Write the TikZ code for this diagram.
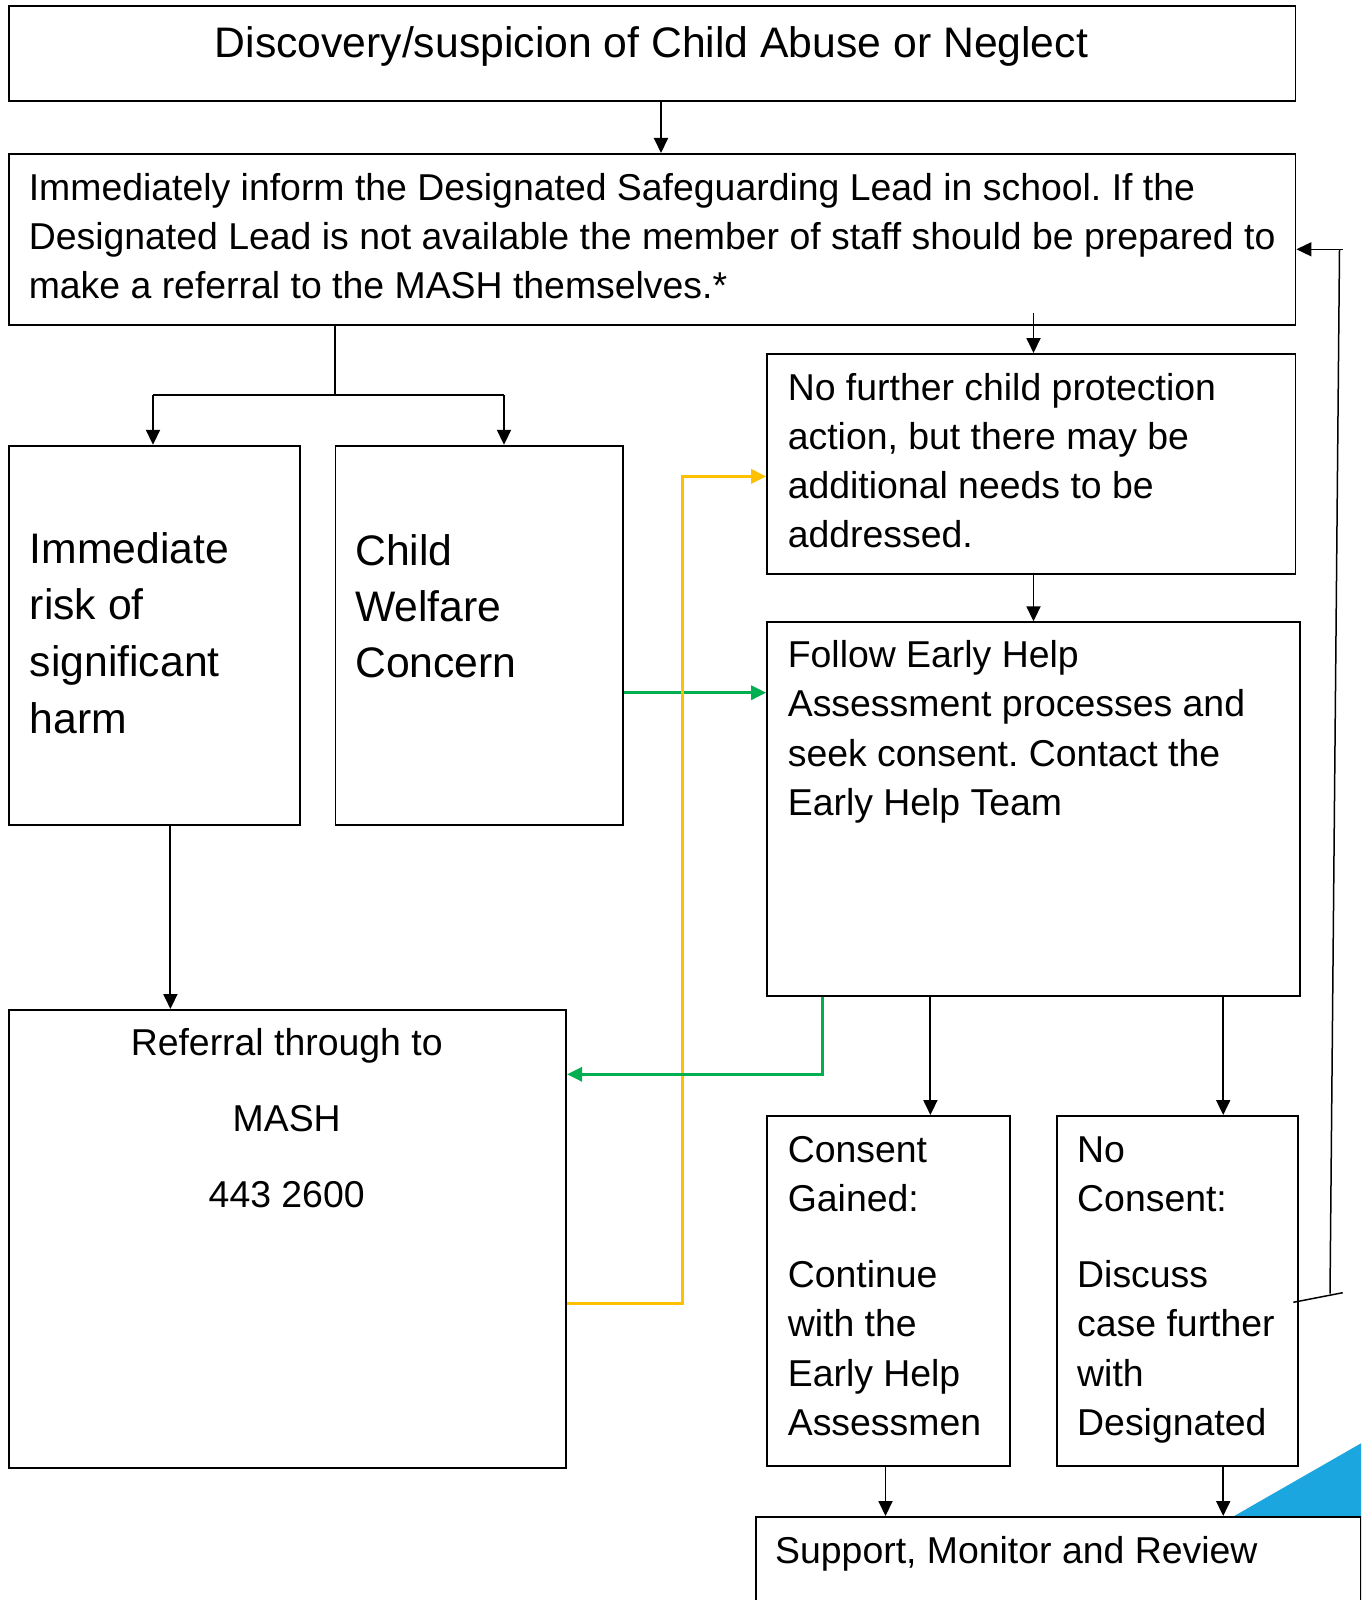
\documentclass[tikz,border=0pt]{standalone}
\usepackage{fontspec}
\setmainfont{Liberation Sans}
\usetikzlibrary{arrows.meta}
\definecolor{lineyellow}{RGB}{255,192,0}
\definecolor{linegreen}{RGB}{0,176,80}
\definecolor{triblue}{RGB}{27,166,224}
\frenchspacing
\begin{document}
\begin{tikzpicture}[x=1pt,y=-1pt,
  box/.style={draw, line width=1.8pt, inner sep=0pt, anchor=north west},
  txt/.style={font=\fontsize{37.4}{49}\selectfont, inner sep=0pt, anchor=base west},
  txtL/.style={font=\fontsize{42.7}{57}\selectfont, inner sep=0pt, anchor=base west},
  txtC/.style={font=\fontsize{37.4}{49}\selectfont, inner sep=0pt, anchor=base},
  arr/.style={-{Triangle[length=15pt,width=14pt]}, line width=1.9pt},
  thinline/.style={line width=1.5pt},
  greenarr/.style={-{Triangle[length=15pt,width=14pt]}, line width=3pt, draw=linegreen},
  yellowarr/.style={-{Triangle[length=15pt,width=14pt]}, line width=3pt, draw=lineyellow}]
\useasboundingbox (0,0) rectangle (1361,1600);
\clip (0,0) rectangle (1361,1600);
\fill[white] (0,0) rectangle (1361,1600);

% blue corner triangle
\fill[triblue] (1233.3,1516.5) -- (1361,1443.3) -- (1361,1516.5) -- cycle;

% boxes
\node[box, minimum width=1286.4pt, minimum height=94.9pt] (title) at (8.2,5.1) {};
\node[box, minimum width=1286.4pt, minimum height=171.4pt] (inform) at (8.2,153) {};
\node[box, minimum width=290.7pt, minimum height=379.5pt] (risk) at (8.2,444.8) {};
\node[box, minimum width=287.7pt, minimum height=379.5pt] (welfare) at (334.6,444.8) {};
\node[box, minimum width=528.4pt, minimum height=220.4pt] (nofurther) at (766.2,353) {};
\node[box, minimum width=532.5pt, minimum height=373.4pt] (follow) at (766.2,621.3) {};
\node[box, minimum width=557pt, minimum height=458pt] (referral) at (8.2,1009) {};
\node[box, minimum width=242.8pt, minimum height=350pt] (consent) at (766.2,1115) {};
\node[box, minimum width=240.7pt, minimum height=350pt] (noconsent) at (1056,1115) {};
\node[box, minimum width=604.8pt, minimum height=120pt] (support) at (755,1516) {};

% texts
\node[txtL, anchor=base] (ttitle) at (651.4,57.5) {Discovery/suspicion of Child Abuse or Neglect};

\node[txt] (ti1) at (28.6,200) {Immediately inform the Designated Safeguarding Lead in school. If the};
\node[txt] (ti2) at (28.6,249) {Designated Lead is not available the member of staff should be prepared to};
\node[txt] (ti3) at (28.6,298.5) {make a referral to the MASH themselves.*};

\node[txtL] (tr1) at (29.6,563) {Immediate};
\node[txtL] (tr2) at (29.6,619.5) {risk of};
\node[txtL] (tr3) at (29.6,676) {significant};
\node[txtL] (tr4) at (29.6,733) {harm};

\node[txtL] (tw1) at (355,565) {Child};
\node[txtL] (tw2) at (355,621) {Welfare};
\node[txtL] (tw3) at (355,677.5) {Concern};

\node[txt] (tn1) at (787.6,400) {No further child protection};
\node[txt] (tn2) at (787.6,449) {action, but there may be};
\node[txt] (tn3) at (787.6,498) {additional needs to be};
\node[txt] (tn4) at (787.6,547.5) {addressed.};

\node[txt] (tf1) at (787.6,667) {Follow Early Help};
\node[txt] (tf2) at (787.6,716.5) {Assessment processes and};
\node[txt] (tf3) at (787.6,766) {seek consent. Contact the};
\node[txt] (tf4) at (787.6,815.5) {Early Help Team};

\node[txtC] (tm1) at (286.7,1055) {Referral through to};
\node[txtC] (tm2) at (286.7,1131) {MASH};
\node[txtC] (tm3) at (286.7,1207) {443 2600};

\node[txt] (tc1) at (787.6,1162) {Consent};
\node[txt] (tc2) at (787.6,1211) {Gained:};
\node[txt] (tc3) at (787.6,1287.5) {Continue};
\node[txt] (tc4) at (787.6,1336.5) {with the};
\node[txt] (tc5) at (787.6,1386) {Early Help};
\node[txt] (tc6) at (787.6,1435.5) {Assessmen};

\node[txt] (tx1) at (1077,1162) {No};
\node[txt] (tx2) at (1077,1211) {Consent:};
\node[txt] (tx3) at (1077,1287.5) {Discuss};
\node[txt] (tx4) at (1077,1336.5) {case further};
\node[txt] (tx5) at (1077,1386) {with};
\node[txt] (tx6) at (1077,1435.5) {Designated};

\node[txt] (ts1) at (775,1563) {Support, Monitor and Review};

% helper coordinates
\coordinate (xa) at (661,0);
\coordinate (xb) at (335,0);
\coordinate (xc) at (153,0);
\coordinate (xd) at (504,0);
\coordinate (xe) at (1033.5,0);
\coordinate (xf) at (170.4,0);
\coordinate (xg) at (822.3,0);
\coordinate (xh) at (930.4,0);
\coordinate (xi) at (1223.2,0);
\coordinate (xj) at (885.5,0);
\coordinate (xk) at (682.5,0);
\coordinate (ya) at (0,395);
\coordinate (yb) at (0,692.7);
\coordinate (yc) at (0,476.4);
\coordinate (yd) at (0,1303.8);
\coordinate (ye) at (0,1074.3);
\coordinate (yf) at (0,249.3);
\coordinate (start) at (1033.5,313);
\coordinate (fb1) at (1293.3,1302.3);
\coordinate (fb2) at (1342.7,1292.7);
\coordinate (fb3) at (1330,1293.5);
\coordinate (fb4) at (1339.5,249.3);
\coordinate (fb5) at (1342.7,249.3);

% black connectors
\draw[arr] (title.south -| xa) -- (inform.north -| xa);
\draw[line width=1.9pt] (inform.south -| xb) -- (xb |- ya);
\draw[line width=1.9pt] (xc |- ya) -- (xd |- ya);
\draw[arr] (xc |- ya) -- (risk.north -| xc);
\draw[arr] (xd |- ya) -- (welfare.north -| xd);
\draw[arr] (start) -- (nofurther.north -| xe);
\draw[arr] (nofurther.south -| xe) -- (follow.north -| xe);
\draw[arr] (risk.south -| xf) -- (referral.north -| xf);
\draw[arr] (follow.south -| xh) -- (consent.north -| xh);
\draw[arr] (follow.south -| xi) -- (noconsent.north -| xi);
\draw[arr] (consent.south -| xj) -- (support.north -| xj);
\draw[arr] (noconsent.south -| xi) -- (support.north -| xi);

% coloured connectors
\draw[greenarr] (welfare.east |- yb) -- (follow.west |- yb);
\draw[yellowarr] (referral.east |- yd) -- (xk |- yd) -- (xk |- yc) -- (nofurther.west |- yc);
\draw[greenarr] (follow.south -| xg) -- (xg |- ye) -- (referral.east |- ye);

% feedback line
\draw[thinline] (fb1) -- (fb2);
\draw[thinline] (fb3) -- (fb4);
\draw[arr, line width=1.5pt] (fb5) -- (inform.east |- fb5);
\end{tikzpicture}
\end{document}
